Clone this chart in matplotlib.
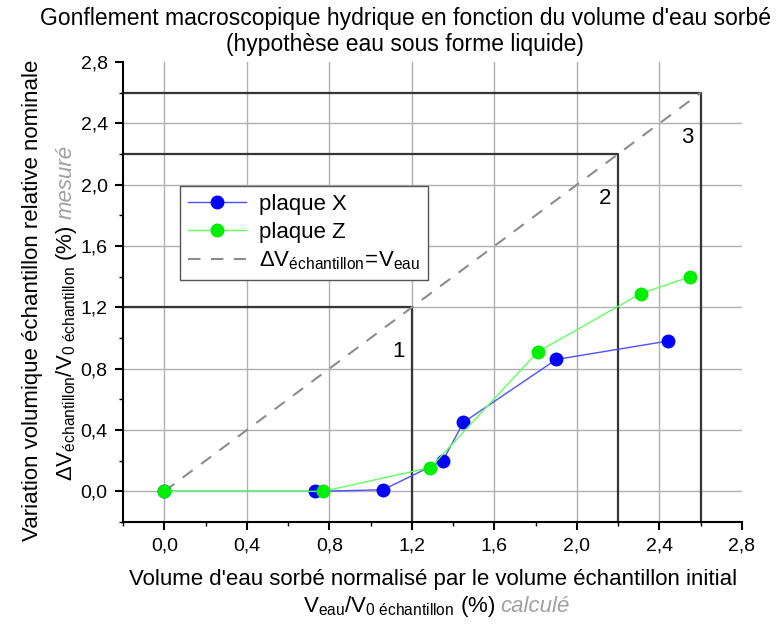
import matplotlib
matplotlib.use('Agg')
import matplotlib.pyplot as plt
from matplotlib.ticker import MultipleLocator, FuncFormatter

plt.rcParams['font.family'] = ['Liberation Sans', 'DejaVu Sans']
plt.rcParams['mathtext.fontset'] = 'custom'
plt.rcParams['mathtext.rm'] = 'Liberation Sans'
plt.rcParams['mathtext.it'] = 'Liberation Sans:italic'
plt.rcParams['mathtext.bf'] = 'Liberation Sans:bold'

# data
x_plaque_x = [0.0, 0.73, 1.06, 1.35, 1.45, 1.90, 2.44]
y_plaque_x = [0.0, 0.0, 0.01, 0.20, 0.45, 0.86, 0.98]
x_plaque_z = [0.0, 0.77, 1.29, 1.81, 2.31, 2.55]
y_plaque_z = [0.0, 0.0, 0.155, 0.91, 1.29, 1.40]

# limits of the three domains (square boxes)
domain_levels = [1.2, 2.2, 2.6]
domain_labels = ['1', '2', '3']

x_ticks = [0.0, 0.4, 0.8, 1.2, 1.6, 2.0, 2.4, 2.8]
y_ticks = [0.0, 0.4, 0.8, 1.2, 1.6, 2.0, 2.4, 2.8]
x_range = (-0.2, 2.8)
y_range = (-0.2, 2.8)

FS = 16
TFS = 14
W, H = 778, 628


def comma(v, pos=None):
    return '{:.1f}'.format(v).replace('.', ',')


def place_parts(fig, center, base, parts, vertical=False, size=FS, gap=5):
    # lay out several text pieces one after the other (pixel coords)
    renderer = fig.canvas.get_renderer()
    texts = []
    for s, color, style in parts:
        t = fig.text(0, 0, s, color=color, style=style, fontsize=size,
                     rotation=90 if vertical else 0, rotation_mode='anchor',
                     ha='left', va='baseline')
        texts.append(t)
    sizes = []
    for t in texts:
        bb = t.get_window_extent(renderer)
        sizes.append(bb.height if vertical else bb.width)
    total = sum(sizes) + gap * (len(sizes) - 1)
    pos = center - total / 2
    for t, sz in zip(texts, sizes):
        if vertical:
            t.set_position((base / W, pos / H))
        else:
            t.set_position((pos / W, base / H))
        pos += sz + gap


fig = plt.figure(figsize=(W / 100, H / 100), dpi=100)
ax = fig.add_axes([123 / W, (H - 522) / H, (742 - 123) / W, (522 - 62) / H])

ax.set_xlim(*x_range)
ax.set_ylim(*y_range)
ax.set_xticks(x_ticks)
ax.set_yticks(y_ticks)
ax.xaxis.set_minor_locator(MultipleLocator(0.2))
ax.yaxis.set_minor_locator(MultipleLocator(0.2))
ax.xaxis.set_major_formatter(FuncFormatter(comma))
ax.yaxis.set_major_formatter(FuncFormatter(comma))
ax.tick_params(which='major', direction='out', length=6, width=1.5, labelsize=TFS, pad=5)
ax.tick_params(which='minor', direction='out', length=3, width=1)
for side in ['top', 'right']:
    ax.spines[side].set_visible(False)
for side in ['left', 'bottom']:
    ax.spines[side].set_linewidth(1.5)

ax.grid(True, which='major', color='#b0b0b0', linewidth=1)
ax.set_axisbelow(True)
ax.xaxis.get_gridlines()[-1].set_visible(False)
ax.yaxis.get_gridlines()[-1].set_visible(False)

for lvl, lab in zip(domain_levels, domain_labels):
    ax.plot([x_range[0], lvl, lvl], [lvl, lvl, y_range[0]], color='#353535', lw=1.6,
            zorder=2, clip_on=False)
    ax.text(lvl - 0.035, lvl - 0.29, lab, fontsize=FS, ha='right', va='center')

diag, = ax.plot([0, domain_levels[-1]], [0, domain_levels[-1]], color='#8c8c8c', lw=1.5,
                dashes=(6, 5), zorder=3)

lx, = ax.plot(x_plaque_x, y_plaque_x, color='#5050ff', lw=1, marker='o', markersize=9,
              markerfacecolor='#0000ff', markeredgecolor='#0000ff', zorder=4)
lz, = ax.plot(x_plaque_z, y_plaque_z, color='#60ff60', lw=1, marker='o', markersize=9,
              markerfacecolor='#00ee00', markeredgecolor='#00ee00', zorder=5)

leg = ax.legend([lx, lz, diag],
                ['plaque X', 'plaque Z',
                 r'$\mathregular{\Delta V_{échantillon}\!=\!V_{eau}}$'],
                loc='upper left', bbox_to_anchor=(0.092, 0.730), borderaxespad=0,
                fontsize=FS, fancybox=False, framealpha=1, edgecolor='#555555',
                handlelength=2.6, handletextpad=0.6, borderpad=0.35, labelspacing=0.3)
leg.get_frame().set_linewidth(1)

fig.text(405 / W, 1 - 18 / H,
         "Gonflement macroscopique hydrique en fonction du volume d'eau sorbé",
         ha='center', va='center', fontsize=16.5)
fig.text(405 / W, 1 - 45 / H, "(hypothèse eau sous forme liquide)",
         ha='center', va='center', fontsize=16.5)

fig.text(433 / W, 1 - 580 / H,
         "Volume d'eau sorbé normalisé par le volume échantillon initial",
         ha='center', va='center', fontsize=FS)
fig.text(33 / W, 1 - 300 / H, "Variation volumique échantillon relative nominale",
         rotation=90, ha='center', va='center', fontsize=FS)

fig.canvas.draw()
place_parts(fig, 436, H - 612,
            [(r'$\mathregular{V_{eau}/V_{0\ échantillon}}$ (%)', 'black', 'normal'),
             ('calculé', '#a0a0a0', 'italic')])
place_parts(fig, H - 313, 72,
            [(r'$\mathregular{\Delta V_{échantillon}/V_{0\ échantillon}}$ (%)', 'black', 'normal'),
             ('mesuré', '#a0a0a0', 'italic')], vertical=True, size=16, gap=7)

fig.savefig('out.png', dpi=100)
